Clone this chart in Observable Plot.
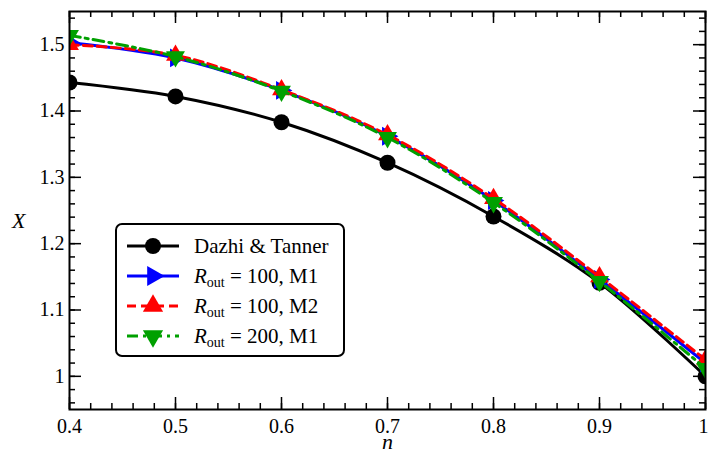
<!DOCTYPE html>
<html><head><meta charset="utf-8">
<script src="https://cdn.jsdelivr.net/npm/d3@7"></script>
<script src="https://cdn.jsdelivr.net/npm/@observablehq/plot@0.6"></script>
<style>
body{margin:0;background:#fff;}
#wrap{position:relative;width:708px;height:455px;font-family:"Liberation Serif",serif;color:#000;}
.axt{position:absolute;font-style:italic;font-size:22px;line-height:1;}
#legend{position:absolute;left:115px;top:223px;width:226px;height:130px;border:2px solid #000;border-radius:7px;background:#fff;box-sizing:content-box;}
.row{position:absolute;left:0;height:30px;display:flex;align-items:center;}
.row svg{margin-left:8px;}
.row span{margin-left:13px;font-size:21px;white-space:nowrap;}
sub{font-size:14px;vertical-align:-4px;line-height:0;}
</style>
</head><body>
<div id="wrap"></div>
<script>
const nValues = [0.4, 0.5, 0.6, 0.7, 0.8, 0.9, 1.0];
const dazhiTanner = [1.443, 1.422, 1.383, 1.322, 1.241, 1.141, 1.000];
const rout100M1 = [1.503, 1.480, 1.431, 1.362, 1.265, 1.146, 1.020];
const rout100M2 = [1.500, 1.484, 1.432, 1.364, 1.268, 1.150, 1.025];
const rout200M1 = [1.514, 1.482, 1.430, 1.360, 1.262, 1.143, 1.012];
const xTickLabels = [0.4, 0.5, 0.6, 0.7, 0.8, 0.9, 1];
const yTickLabels = [1, 1.1, 1.2, 1.3, 1.4, 1.5];
const seriesNames = ["Dazhi & Tanner", "R_out = 100, M1", "R_out = 100, M2", "R_out = 200, M1"];

const W = 708, H = 455, mL = 69, mR = 3, mT = 11, mB = 46;
const innerW = W - mL - mR, innerH = H - mT - mB;
const xMinor = d3.range(0, 31).map(i => +(0.4 + i * 0.02).toFixed(2));
const yMinor = d3.range(0, 30).map(i => +(0.96 + i * 0.02).toFixed(2));

const mk = (ys) => nValues.map((n, i) => ({n, v: ys[i]}));
const dA = mk(dazhiTanner), dB = mk(rout100M1), dC = mk(rout100M2), dD = mk(rout200M1);

const tickStyle = {stroke: "black", strokeWidth: 1.5};
const plot = Plot.plot({
  width: W, height: H,
  marginLeft: mL, marginRight: mR, marginTop: mT, marginBottom: mB,
  style: {fontFamily: "Liberation Serif", fontSize: "20px", color: "black", background: "white", overflow: "visible"},
  x: {domain: [0.4, 1.0], axis: null},
  y: {domain: [0.95, 1.55], axis: null},
  marks: [
    Plot.tickX(xMinor, {x: d => d, insetTop: innerH - 6, ...tickStyle}),
    Plot.tickX(xMinor, {x: d => d, insetBottom: innerH - 6, ...tickStyle}),
    Plot.tickX(xTickLabels, {x: d => d, insetTop: innerH - 12, ...tickStyle}),
    Plot.tickX(xTickLabels, {x: d => d, insetBottom: innerH - 12, ...tickStyle}),
    Plot.tickY(yMinor, {y: d => d, insetRight: innerW - 6, ...tickStyle}),
    Plot.tickY(yMinor, {y: d => d, insetLeft: innerW - 6, ...tickStyle}),
    Plot.tickY(yTickLabels, {y: d => d, insetRight: innerW - 12, ...tickStyle}),
    Plot.tickY(yTickLabels, {y: d => d, insetLeft: innerW - 12, ...tickStyle}),
    Plot.axisX(xTickLabels.slice(0, -1), {tickSize: 0, tickPadding: 9, label: null, tickFormat: d => String(d), fontSize: 20, fill: "black"}),
    Plot.axisX(xTickLabels.slice(-1), {tickSize: 0, tickPadding: 9, label: null, tickFormat: d => String(d), fontSize: 20, fill: "black", dx: -2}),
    Plot.axisY(yTickLabels, {tickSize: 0, tickPadding: 5, label: null, tickFormat: d => String(d), fontSize: 20, fill: "black"}),
    Plot.line(dA, {x: "n", y: "v", curve: "catmull-rom", stroke: "black", strokeWidth: 3, clip: "frame"}),
    Plot.dot(dA, {x: "n", y: "v", r: 8, fill: "black", stroke: "none", clip: "frame"}),
    Plot.line(dB, {x: "n", y: "v", curve: "catmull-rom", stroke: "#0000ff", strokeWidth: 3, clip: "frame"}),
    Plot.dot(dB, {x: "n", y: "v", symbol: "triangle", r: 7, rotate: 90, fill: "#0000ff", stroke: "none", clip: "frame"}),
    Plot.line(dC, {x: "n", y: "v", curve: "catmull-rom", stroke: "#ff0000", strokeWidth: 3, strokeDasharray: "9,5", clip: "frame"}),
    Plot.dot(dC, {x: "n", y: "v", symbol: "triangle", r: 7, fill: "#ff0000", stroke: "none", clip: "frame"}),
    Plot.line(dD, {x: "n", y: "v", curve: "catmull-rom", stroke: "#00a000", strokeWidth: 3, strokeDasharray: "11,5,3,5", clip: "frame"}),
    Plot.dot(dD, {x: "n", y: "v", symbol: "triangle", r: 7, rotate: 180, fill: "#00a000", stroke: "none", clip: "frame"}),
    Plot.frame({stroke: "black", strokeWidth: 2})
  ]
});
const wrap = document.getElementById("wrap");
wrap.appendChild(plot);

function addText(cls, txt, left, top) {
  const d = document.createElement("div");
  d.className = cls; d.textContent = txt;
  d.style.left = left + "px"; d.style.top = top + "px";
  wrap.appendChild(d);
}
addText("axt", "n", 382, 431);
addText("axt", "X", 12, 210);

// legend
const legendItems = [
  {name: seriesNames[0], color: "black", dash: null, sym: "circle"},
  {name: seriesNames[1], color: "#0000ff", dash: null, sym: "right"},
  {name: seriesNames[2], color: "#ff0000", dash: "9,5", sym: "up"},
  {name: seriesNames[3], color: "#00a000", dash: "11,5,3,5", sym: "down"}
];
const leg = document.createElement("div");
leg.id = "legend";
legendItems.forEach((it, i) => {
  const row = document.createElement("div");
  row.className = "row";
  row.style.top = (6 + i * 30) + "px";
  const svg = d3.create("svg").attr("width", 56).attr("height", 24);
  svg.append("line").attr("x1", 2).attr("x2", 54).attr("y1", 12).attr("y2", 12)
    .attr("stroke", it.color).attr("stroke-width", 3).attr("stroke-dasharray", it.dash);
  const rot = it.sym === "right" ? 90 : it.sym === "down" ? 180 : 0;
  if (it.sym === "circle") {
    svg.append("circle").attr("cx", 28).attr("cy", 12).attr("r", 8).attr("fill", it.color);
  } else {
    svg.append("path").attr("d", d3.symbol(d3.symbolTriangle, Math.PI * 7.5 * 7.5)())
      .attr("transform", `translate(28,12) rotate(${rot})`).attr("fill", it.color);
  }
  row.appendChild(svg.node());
  const span = document.createElement("span");
  if (it.name.startsWith("R_out")) {
    const rest = it.name.slice(5);
    span.innerHTML = `<i>R</i><sub>out</sub>${rest}`;
  } else {
    span.textContent = it.name;
  }
  row.appendChild(span);
  leg.appendChild(row);
});
wrap.appendChild(leg);
</script>
</body></html>
